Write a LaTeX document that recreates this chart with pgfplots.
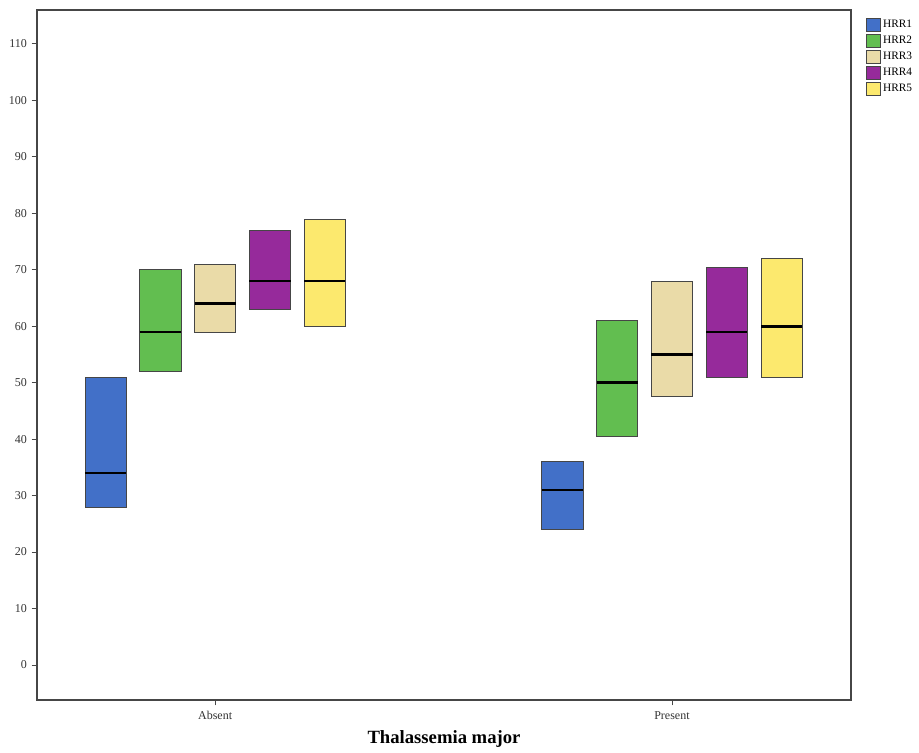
\documentclass[border=0pt]{standalone}
\usepackage{fontspec}
\setmainfont{Liberation Serif}
\usepackage{pgfplots}
\pgfplotsset{compat=1.18}

\definecolor{hrrA}{RGB}{66,112,200}
\definecolor{hrrB}{RGB}{98,190,80}
\definecolor{hrrC}{RGB}{234,219,168}
\definecolor{hrrD}{RGB}{150,42,155}
\definecolor{hrrE}{RGB}{252,233,110}
\definecolor{edge}{RGB}{70,70,70}

% one box: #1 left, #2 right, #3 lower quartile, #4 median, #5 upper quartile, #6 colour
\newcommand{\hrrbox}[6]{%
  \addplot[forget plot, fill=#6, draw=edge, line width=0.5pt]
    coordinates {(#1,#3) (#2,#3) (#2,#5) (#1,#5)} -- cycle;
  \addplot[forget plot, black, line width=2pt]
    coordinates {(#1,#4) (#2,#4)};
}

\begin{document}
\begin{tikzpicture}
\begin{axis}[
    scale only axis,
    width=610.5pt, height=517.5pt,
    xmin=-0.39, xmax=1.392,
    ymin=-6.2, ymax=116,
    xtick={0,1}, xticklabels={Absent,Present},
    ytick={0,10,...,110},
    xtick pos=bottom, ytick pos=left,
    tick align=outside, major tick length=4pt,
    tick style={edge, line width=0.6pt},
    axis line style={edge, line width=0.8pt},
    ticklabel style={font=\fontsize{9}{10}\selectfont, text=black!80},
    /pgf/number format/assume math mode=true,
    xticklabel style={yshift=-1pt},
    xlabel={\textbf{Thalassemia major}},
    xlabel style={font=\fontsize{14}{16}\selectfont, at={(axis description cs:0.5,0)}, anchor=center, yshift=-29.5pt},
    legend style={at={(axis description cs:1,1)}, anchor=north west, xshift=11pt, yshift=-5.5pt,
      draw=none, fill=none, font=\fontsize{8.5}{9}\selectfont, row sep=0.9pt,
      inner sep=0pt},
    legend cell align={left},
    legend image code/.code={\draw[#1] (0pt,-5pt) rectangle (10.5pt,5pt);},
]
% Absent
\hrrbox{-0.285}{-0.195}{28}{34}{51}{hrrA}
\hrrbox{-0.165}{-0.075}{52}{59}{70}{hrrB}
\hrrbox{-0.045}{0.045}{59}{64}{71}{hrrC}
\hrrbox{0.075}{0.165}{63}{68}{77}{hrrD}
\hrrbox{0.195}{0.285}{60}{68}{79}{hrrE}
% Present
\hrrbox{0.715}{0.805}{24}{31}{36}{hrrA}
\hrrbox{0.835}{0.925}{40.5}{50}{61}{hrrB}
\hrrbox{0.955}{1.045}{47.5}{55}{68}{hrrC}
\hrrbox{1.075}{1.165}{51}{59}{70.5}{hrrD}
\hrrbox{1.195}{1.285}{51}{60}{72}{hrrE}

\addlegendimage{fill=hrrA, draw=edge}
\addlegendentry{HRR1}
\addlegendimage{fill=hrrB, draw=edge}
\addlegendentry{HRR2}
\addlegendimage{fill=hrrC, draw=edge}
\addlegendentry{HRR3}
\addlegendimage{fill=hrrD, draw=edge}
\addlegendentry{HRR4}
\addlegendimage{fill=hrrE, draw=edge}
\addlegendentry{HRR5}
\end{axis}
\path (-27.75pt,-38.25pt) rectangle (661.5pt,525pt);
\end{tikzpicture}
\end{document}
